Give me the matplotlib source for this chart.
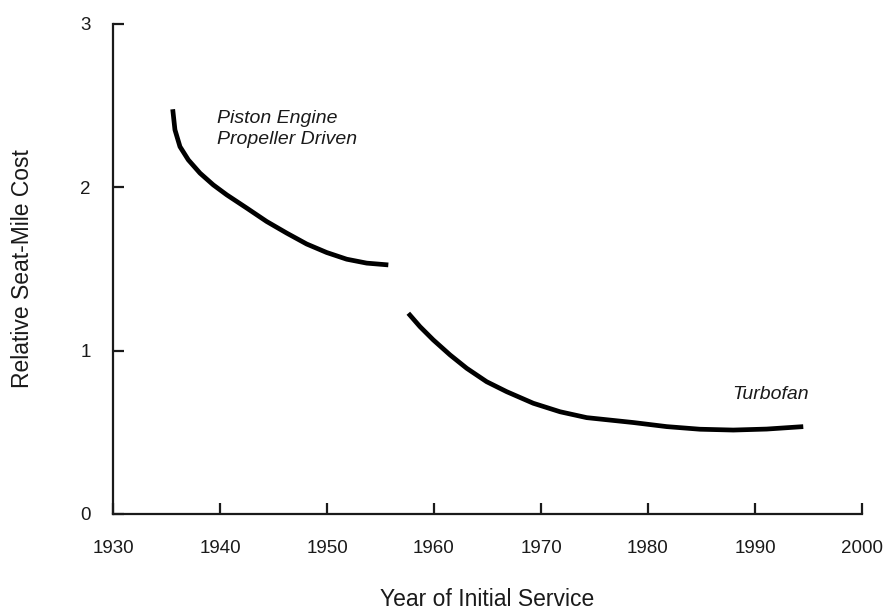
import matplotlib.pyplot as plt

piston_years = [1935.58, 1935.79, 1936.26, 1937.04, 1938.13, 1939.37, 1940.63,
                1942.50, 1944.36, 1946.23, 1948.10, 1949.97, 1951.84, 1953.71,
                1955.73]
piston_cost = [2.478, 2.352, 2.249, 2.168, 2.087, 2.015, 1.954,
               1.873, 1.791, 1.720, 1.653, 1.601, 1.560, 1.536,
               1.525]

turbofan_years = [1957.60, 1958.69, 1959.93, 1961.50, 1963.06, 1964.92, 1966.79,
                  1969.28, 1971.78, 1974.27, 1978.63, 1981.75, 1984.86, 1987.97,
                  1991.09, 1994.51]
turbofan_cost = [1.229, 1.147, 1.066, 0.974, 0.892, 0.810, 0.749,
                 0.678, 0.626, 0.590, 0.560, 0.535, 0.519, 0.514,
                 0.520, 0.535]

x_ticks = [1930, 1940, 1950, 1960, 1970, 1980, 1990, 2000]
y_ticks = [0, 1, 2, 3]

plt.rcParams["font.family"] = ["Liberation Sans", "DejaVu Sans"]
ink = "#1a1a1a"

fig = plt.figure(figsize=(8.91, 6.13), dpi=100)
ax = fig.add_axes([113 / 891, 99 / 613, 749 / 891, 490 / 613])

ax.plot(piston_years, piston_cost, color="black", lw=3.4,
        solid_capstyle="butt", solid_joinstyle="round")
ax.plot(turbofan_years, turbofan_cost, color="black", lw=3.4,
        solid_capstyle="butt", solid_joinstyle="round")

ax.text(1939.7, 2.357, "Piston Engine\nPropeller Driven", fontsize=14,
        style="italic", color=ink, linespacing=1.3, va="center")
ax.text(1995.0, 0.729, "Turbofan", fontsize=14, style="italic",
        color=ink, ha="right", va="center")

ax.set_xlim(1930, 2000)
ax.set_ylim(0, 3)
ax.set_xticks(x_ticks)
ax.set_yticks(y_ticks)
ax.spines["top"].set_visible(False)
ax.spines["right"].set_visible(False)
for side in ("left", "bottom"):
    ax.spines[side].set_linewidth(1.6)
    ax.spines[side].set_color(ink)
ax.tick_params(direction="in", length=8, width=1.6, color=ink,
               labelsize=13.5, labelcolor=ink)
ax.tick_params(axis="x", pad=19)
ax.tick_params(axis="y", pad=16)

ax.set_xlabel("Year of Initial Service", fontsize=16.5, color=ink, labelpad=22)
ax.set_ylabel("Relative Seat-Mile Cost", fontsize=16.5, color=ink, labelpad=33)

fig.savefig("out.png", dpi=100)
